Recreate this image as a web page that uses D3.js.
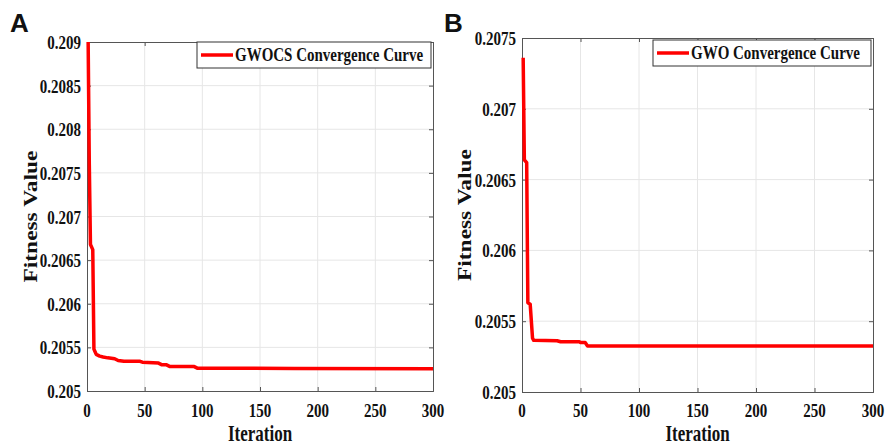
<!DOCTYPE html>
<html>
<head>
<meta charset="utf-8">
<script src="https://cdn.jsdelivr.net/npm/d3@7/dist/d3.min.js"></script>
<style>
  html, body { margin: 0; padding: 0; background: #fff; }
  svg { display: block; }
  text { font-family: "Liberation Serif", "Times New Roman", serif; font-weight: bold; fill: #111; }
</style>
</head>
<body>
<svg id="chart" width="887" height="448"></svg>
<script>
// ---------- data ----------
const iterA = [1, 2, 3, 5, 6, 7, 8, 11, 14, 18, 24, 27, 32, 46, 48, 62, 65, 69, 72, 93, 96, 180, 300];
const fitA  = [0.2090, 0.2076, 0.20668, 0.20662, 0.20548, 0.20545, 0.20542, 0.20540, 0.20539, 0.20538, 0.20537,
               0.20535, 0.20534, 0.20534, 0.20533, 0.20532, 0.20530, 0.20530, 0.20528, 0.20528, 0.20526, 0.205259, 0.205256];
const iterB = [1, 2, 4, 5, 7, 9, 10, 30, 33, 49, 50, 54, 56, 300];
const fitB  = [0.20736, 0.20664, 0.20662, 0.20563, 0.20562, 0.20538, 0.205365, 0.205362, 0.205355, 0.205355,
               0.20535, 0.20535, 0.205325, 0.205325];

const xTicks = [0, 50, 100, 150, 200, 250, 300];
const xTickLabels = ["0", "50", "100", "150", "200", "250", "300"];
const yTicksA = [0.205, 0.2055, 0.206, 0.2065, 0.207, 0.2075, 0.208, 0.2085, 0.209];
const yTickLabelsA = ["0.205", "0.2055", "0.206", "0.2065", "0.207", "0.2075", "0.208", "0.2085", "0.209"];
const yTicksB = [0.205, 0.2055, 0.206, 0.2065, 0.207, 0.2075];
const yTickLabelsB = ["0.205", "0.2055", "0.206", "0.2065", "0.207", "0.2075"];
const legendA = "GWOCS Convergence Curve";
const legendB = "GWO Convergence Curve";
const xTitle = "Iteration";
const yTitle = "Fitness Value";

// ---------- drawing ----------
const svg = d3.select("#chart");
const STRETCH = 1.3;

function panel(opt) {
  const { left, right, top, bottom, yDomain, yTicks, yLabels, iters, vals, legend, letter, letterX, legendBox } = opt;
  const x = d3.scaleLinear().domain([0, 300]).range([left, right]);
  const y = d3.scaleLinear().domain(yDomain).range([bottom, top]);
  const g = svg.append("g");

  // grid
  g.selectAll(".gx").data(xTicks.slice(1, -1)).join("line")
    .attr("x1", d => x(d)).attr("x2", d => x(d)).attr("y1", top).attr("y2", bottom)
    .attr("stroke", "#e6e6e6").attr("stroke-width", 1);
  g.selectAll(".gy").data(yTicks.slice(1, -1)).join("line")
    .attr("y1", d => y(d)).attr("y2", d => y(d)).attr("x1", left).attr("x2", right)
    .attr("stroke", "#e6e6e6").attr("stroke-width", 1);

  // axes with inward ticks (bottom/top/left/right)
  const axB = d3.axisBottom(x).tickValues(xTicks).tickSize(-4).tickFormat("");
  const axT = d3.axisTop(x).tickValues(xTicks).tickSize(-4).tickFormat("");
  const axL = d3.axisLeft(y).tickValues(yTicks).tickSize(-4).tickFormat("");
  const axR = d3.axisRight(y).tickValues(yTicks).tickSize(-4).tickFormat("");
  [[axB, `translate(0,${bottom})`], [axT, `translate(0,${top})`], [axL, `translate(${left},0)`], [axR, `translate(${right},0)`]]
    .forEach(([ax, tr]) => {
      const a = g.append("g").attr("transform", tr).call(ax);
      a.selectAll("path").attr("stroke", "#555").attr("stroke-width", 1);
      a.selectAll("line").attr("stroke", "#555");
    });

  // tick labels
  g.selectAll(".xl").data(xTicks).join("text")
    .attr("transform", d => `translate(${x(d)},417) scale(1,${STRETCH})`)
    .attr("text-anchor", "middle").attr("font-size", 15)
    .text((d, i) => xTickLabels[i]);
  g.selectAll(".yl").data(yTicks).join("text")
    .attr("transform", d => `translate(${left - 6},${y(d) + 7}) scale(1,${STRETCH})`)
    .attr("text-anchor", "end").attr("font-size", 15)
    .text((d, i) => yLabels[i]);

  // axis titles
  g.append("text")
    .attr("transform", `translate(${(left + right) / 2},441) scale(1,${STRETCH})`)
    .attr("text-anchor", "middle").attr("font-size", 17).text(xTitle);
  g.append("text")
    .attr("transform", `translate(${letterX + 27},${(top + bottom) / 2}) rotate(-90) scale(${STRETCH},1)`)
    .attr("text-anchor", "middle").attr("font-size", 18).text(yTitle);

  // curve
  const pts = iters.map((d, i) => [d, vals[i]]);
  g.append("path").datum(pts)
    .attr("fill", "none").attr("stroke", "#ff0000").attr("stroke-width", 3.5)
    .attr("stroke-linejoin", "round")
    .attr("d", d3.line().x(d => x(d[0])).y(d => y(d[1])));

  // legend
  const lb = legendBox;
  g.append("rect").attr("x", lb.x).attr("y", lb.y).attr("width", lb.w).attr("height", lb.h)
    .attr("fill", "#fff").attr("stroke", "#333").attr("stroke-width", 1);
  g.append("line").attr("x1", lb.x + 4).attr("x2", lb.x + 36).attr("y1", lb.y + lb.h / 2).attr("y2", lb.y + lb.h / 2)
    .attr("stroke", "#ff0000").attr("stroke-width", 3.5);
  g.append("text")
    .attr("transform", `translate(${lb.x + 38},${lb.y + lb.h / 2 + 6}) scale(1,${STRETCH})`)
    .attr("font-size", 15).text(legend);

  // panel letter
  svg.append("text").attr("x", letterX).attr("y", 32)
    .style("font-family", "'Liberation Sans', Arial, sans-serif")
    .attr("font-size", 26).attr("font-weight", "bold").attr("fill", "#000").text(letter);
}

panel({ left: 87, right: 433, top: 42, bottom: 391, yDomain: [0.205, 0.209], yTicks: yTicksA, yLabels: yTickLabelsA,
        iters: iterA, vals: fitA, legend: legendA, letter: "A", letterX: 10,
        legendBox: { x: 197, y: 42, w: 234, h: 26 } });
panel({ left: 522, right: 873, top: 38, bottom: 392, yDomain: [0.205, 0.2075], yTicks: yTicksB, yLabels: yTickLabelsB,
        iters: iterB, vals: fitB, legend: legendB, letter: "B", letterX: 444,
        legendBox: { x: 653, y: 40, w: 218, h: 26 } });
</script>
</body>
</html>
